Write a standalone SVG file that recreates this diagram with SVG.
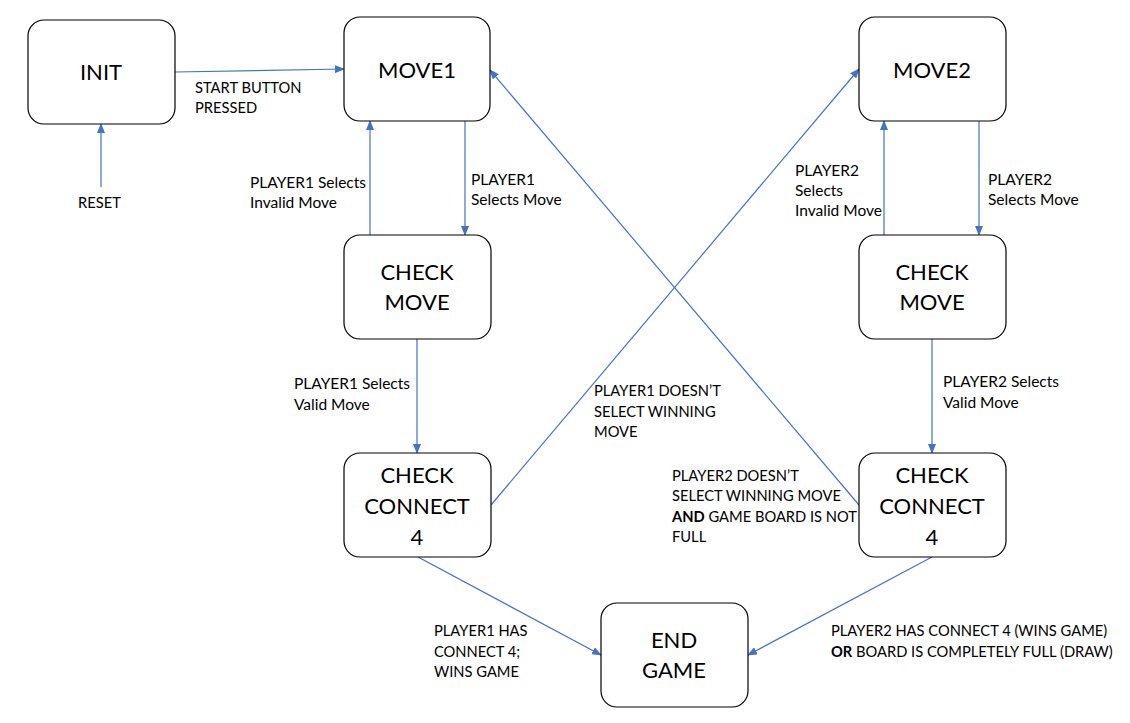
<svg xmlns="http://www.w3.org/2000/svg" width="1130" height="723" viewBox="0 0 1130 723">
<style>
.node rect{fill:#fff;stroke:#000;stroke-width:1.2}
.nt{font-family:Lato,"Open Sans","Liberation Sans",sans-serif;font-size:22px;fill:#000;text-anchor:middle}
.lb{font-family:Lato,"Open Sans","Liberation Sans",sans-serif;font-size:14.7px;fill:#000}
.lc{font-size:15.5px}
.b{font-weight:bold}
#connectors line{stroke:#4472C4;stroke-width:1.2;fill:none;marker-end:url(#ah)}
</style>
<defs>
<marker id="ah" markerWidth="10" markerHeight="8" refX="9" refY="4" orient="auto" markerUnits="userSpaceOnUse">
<path d="M0,0 L10,4 L0,8 Z" fill="#4472C4"/>
</marker>
</defs>
<rect width="1130" height="723" fill="#fff"/>
<g id="connectors">
<line x1="175" y1="72" x2="344" y2="69"/>
<line x1="101" y1="187" x2="101" y2="124"/>
<line x1="370" y1="235" x2="370" y2="121"/>
<line x1="465" y1="121" x2="465" y2="235"/>
<line x1="884" y1="235" x2="884" y2="121"/>
<line x1="979" y1="121" x2="979" y2="235"/>
<line x1="417" y1="339" x2="417" y2="453"/>
<line x1="932" y1="339" x2="932" y2="453"/>
<line x1="491" y1="505" x2="859" y2="69"/>
<line x1="859" y1="505" x2="490" y2="70"/>
<line x1="418" y1="557" x2="601" y2="655"/>
<line x1="932" y1="557" x2="748" y2="655"/>
</g>
<g id="init" class="node"><rect x="28" y="20" width="147" height="104" rx="16"/><text class="nt" x="101" y="80">INIT</text></g>
<g id="move1" class="node"><rect x="344" y="17" width="146" height="104" rx="16"/><text class="nt" x="417" y="78">MOVE1</text></g>
<g id="move2" class="node"><rect x="859" y="17" width="147" height="104" rx="16"/><text class="nt" x="932" y="78">MOVE2</text></g>
<g id="checkmove1" class="node"><rect x="344" y="235" width="147" height="104" rx="16"/><text class="nt" x="417" y="280">CHECK</text><text class="nt" x="417" y="310">MOVE</text></g>
<g id="checkmove2" class="node"><rect x="859" y="235" width="147" height="104" rx="16"/><text class="nt" x="932" y="280">CHECK</text><text class="nt" x="932" y="310">MOVE</text></g>
<g id="checkconnect1" class="node"><rect x="344" y="453" width="147" height="104" rx="16"/><text class="nt" x="417" y="483">CHECK</text><text class="nt" x="417" y="514">CONNECT</text><text class="nt" x="417" y="545">4</text></g>
<g id="checkconnect2" class="node"><rect x="859" y="453" width="147" height="104" rx="16"/><text class="nt" x="932" y="483">CHECK</text><text class="nt" x="932" y="514">CONNECT</text><text class="nt" x="932" y="545">4</text></g>
<g id="endgame" class="node"><rect x="601" y="603" width="147" height="104" rx="16"/><text class="nt" x="674" y="648">END</text><text class="nt" x="674" y="678">GAME</text></g>
<g id="labels">
<text class="lb" x="195" y="93">START BUTTON</text>
<text class="lb" x="195" y="113">PRESSED</text>
<text class="lb" x="78" y="208">RESET</text>
<text class="lb lc" x="250" y="188">PLAYER1 Selects</text>
<text class="lb lc" x="250" y="208">Invalid Move</text>
<text class="lb lc" x="471" y="185">PLAYER1</text>
<text class="lb lc" x="471" y="205">Selects Move</text>
<text class="lb lc" x="795" y="176">PLAYER2</text>
<text class="lb lc" x="795" y="196">Selects</text>
<text class="lb lc" x="795" y="216">Invalid Move</text>
<text class="lb lc" x="988" y="185">PLAYER2</text>
<text class="lb lc" x="988" y="205">Selects Move</text>
<text class="lb lc" x="294" y="389">PLAYER1 Selects</text>
<text class="lb lc" x="294" y="410">Valid Move</text>
<text class="lb lc" x="943" y="387">PLAYER2 Selects</text>
<text class="lb lc" x="943" y="408">Valid Move</text>
<text class="lb" x="594" y="396">PLAYER1 DOESN’T</text>
<text class="lb" x="594" y="417">SELECT WINNING</text>
<text class="lb" x="594" y="437">MOVE</text>
<text class="lb" x="672" y="481">PLAYER2 DOESN’T</text>
<text class="lb" x="672" y="501">SELECT WINNING MOVE</text>
<text class="lb" x="672" y="522"><tspan class="b">AND</tspan> GAME BOARD IS NOT</text>
<text class="lb" x="672" y="542">FULL</text>
<text class="lb" x="434" y="636">PLAYER1 HAS</text>
<text class="lb" x="434" y="657">CONNECT 4;</text>
<text class="lb" x="434" y="677">WINS GAME</text>
<text class="lb" x="831" y="636">PLAYER2 HAS CONNECT 4 (WINS GAME)</text>
<text class="lb" x="831" y="657"><tspan class="b">OR</tspan> BOARD IS COMPLETELY FULL (DRAW)</text>
</g>
</svg>
